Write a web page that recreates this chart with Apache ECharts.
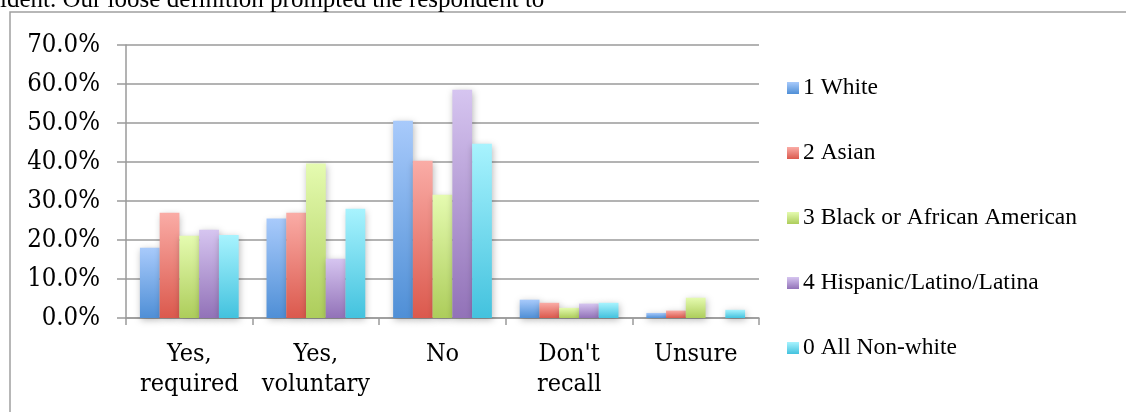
<!DOCTYPE html>
<html>
<head>
<meta charset="utf-8">
<script src="https://cdn.jsdelivr.net/npm/echarts@6/dist/echarts.min.js"></script>
<style>
  html, body { margin: 0; padding: 0; background: #ffffff; }
  #chart { width: 1126px; height: 412px; }
</style>
</head>
<body>
<div id="chart"></div>
<script>
// Survey answers by respondent group (percent of each group)
const categories = ["Yes,\nrequired", "Yes,\nvoluntary", "No", "Don't\nrecall", "Unsure"];
const seriesNames = ["1 White", "2 Asian", "3 Black or African American", "4 Hispanic/Latino/Latina", "0 All Non-white"];
const white     = [18.0, 25.5, 50.6, 4.7, 1.3];
const asian     = [27.0, 27.0, 40.3, 3.9, 1.9];
const black     = [21.1, 39.6, 31.6, 2.6, 5.2];
const hispanic  = [22.6, 15.2, 58.5, 3.7, 0.0];
const nonWhite  = [21.3, 28.0, 44.7, 3.9, 2.1];
const yTicks = { min: 0, max: 70, interval: 10 };
const bodyText = "ident. Our loose definition prompted the respondent to";

// top / bottom colours of each series' bar gradient
const palette = [
  ["#a8cafb", "#4f8fd6"],
  ["#faaca6", "#db594d"],
  ["#e5fbb0", "#adcd5b"],
  ["#d6c5f0", "#9272b8"],
  ["#a8f3fe", "#43c2de"]
];

const values = [white, asian, black, hispanic, nonWhite];
const axisFont = "'DejaVu Serif Condensed', 'DejaVu Serif', serif";

function grad(pair) {
  return new echarts.graphic.LinearGradient(0, 0, 0, 1, [
    { offset: 0, color: pair[0] },
    { offset: 1, color: pair[1] }
  ]);
}

const chart = echarts.init(document.getElementById('chart'), null, { renderer: 'canvas' });

const series = seriesNames.map((name, i) => ({
  name: name,
  type: 'bar',
  data: values[i],
  barGap: '0%',
  barCategoryGap: '22%',
  itemStyle: {
    color: grad(palette[i]),
    shadowBlur: 7,
    shadowColor: 'rgba(0,0,0,0.28)',
    shadowOffsetX: 1,
    shadowOffsetY: 2
  },
  emphasis: { disabled: true }
}));

chart.setOption({
  animation: false,
  backgroundColor: '#ffffff',
  grid: { left: 126, right: 367, top: 45, bottom: 94, containLabel: false },
  legend: {
    orient: 'vertical',
    left: 787,
    top: 76,
    padding: 0,
    itemWidth: 12,
    itemHeight: 12,
    itemGap: 41,
    icon: 'rect',
    selectedMode: false,
    textStyle: {
      fontFamily: 'Liberation Serif',
      fontSize: 23.5,
      color: '#000000',
      lineHeight: 24,
      padding: [0, 0, 0, -1]
    },
    data: seriesNames
  },
  xAxis: {
    type: 'category',
    data: categories,
    boundaryGap: true,
    axisLine: { show: true, lineStyle: { color: '#9a9a9a', width: 1.5 } },
    axisTick: { show: true, length: 7, alignWithLabel: false, lineStyle: { color: '#9a9a9a', width: 1.5 } },
    axisLabel: {
      margin: 21,
      fontFamily: axisFont,
      fontSize: 25,
      lineHeight: 30,
      color: '#000000',
      interval: 0
    }
  },
  yAxis: {
    type: 'value',
    min: yTicks.min,
    max: yTicks.max,
    interval: yTicks.interval,
    axisLine: { show: true, lineStyle: { color: '#9a9a9a', width: 1.5 } },
    axisTick: { show: true, length: 9, lineStyle: { color: '#9a9a9a', width: 1.5 } },
    splitLine: { show: true, lineStyle: { color: '#9a9a9a', width: 1.5 } },
    axisLabel: {
      margin: 26,
      fontFamily: axisFont,
      fontSize: 25.5,
      color: '#000000',
      formatter: v => v.toFixed(1) + '%'
    }
  },
  graphic: [
    {
      type: 'rect',
      silent: true,
      shape: { x: 10, y: 12, width: 1300, height: 600 },
      style: { fill: 'none', stroke: '#a0a0a0', lineWidth: 1.5 }
    },
    {
      type: 'text',
      silent: true,
      left: 0,
      top: -12,
      style: {
        text: bodyText,
        fontFamily: 'Liberation Serif',
        fontSize: 25,
        fill: '#000000'
      }
    }
  ],
  series: series
});
</script>
</body>
</html>
